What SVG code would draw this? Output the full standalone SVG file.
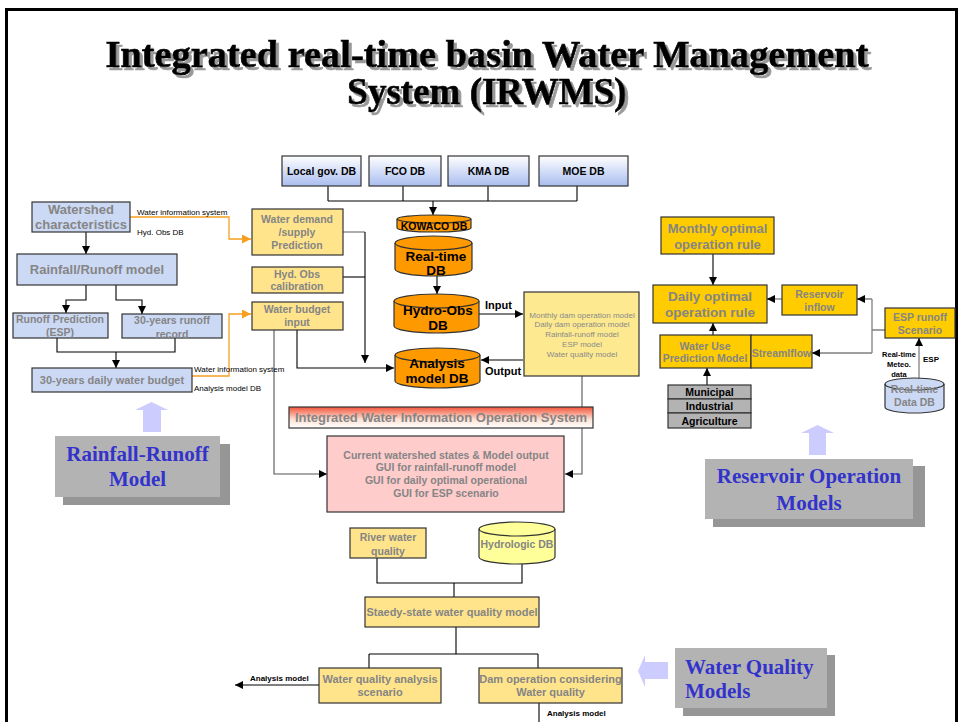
<svg xmlns="http://www.w3.org/2000/svg" width="961" height="722" viewBox="0 0 961 722">
<defs>
  <linearGradient id="dbGrad" x1="0" y1="0" x2="0" y2="1">
    <stop offset="0" stop-color="#ffffff"/>
    <stop offset="1" stop-color="#a9bdf0"/>
  </linearGradient>
  <linearGradient id="bannerGrad" x1="0" y1="0" x2="0" y2="1">
    <stop offset="0" stop-color="#f2553a"/>
    <stop offset="0.6" stop-color="#fde2d6"/>
    <stop offset="1" stop-color="#ffffff"/>
  </linearGradient>
  <filter id="titleShadow" x="-5%" y="-20%" width="110%" height="150%">
    <feDropShadow dx="3" dy="3" stdDeviation="0" flood-color="#9a9a9a" flood-opacity="1"/>
  </filter>
  <marker id="ah" viewBox="0 0 8 8" refX="8" refY="4" markerWidth="8" markerHeight="8" markerUnits="userSpaceOnUse" orient="auto">
    <path d="M0,0 L8,4 L0,8 Z" fill="#000"/>
  </marker>
  <marker id="aho" viewBox="0 0 8 8" refX="8" refY="4" markerWidth="9" markerHeight="9" markerUnits="userSpaceOnUse" orient="auto">
    <path d="M0,0 L8,4 L0,8 Z" fill="#f5a020"/>
  </marker>
</defs>
<style>
  text { font-family: "Liberation Sans", Arial, sans-serif; font-weight: bold; text-anchor: middle; }
  .title { font-family: "Liberation Serif", "Times New Roman", serif; font-size: 37px; fill: #000; stroke: #000; stroke-width: 0.7; filter: url(#titleShadow); }
  .g { fill: #858585; }
  .k { fill: #000; }
  .bx { stroke: #333; stroke-width: 1.2; }
  .lb { fill: #ccd9f5; }
  .ly { fill: #ffe48c; }
  .yo { fill: #ffcc00; }
  .or { fill: #ff9900; }
  .gr { fill: #b3b3b3; }
  .c { fill: none; stroke: #000; stroke-width: 1.1; }
  .cg { fill: none; stroke: #808080; stroke-width: 1.3; }
  .co { fill: none; stroke: #f5a020; stroke-width: 1.3; }
  .sm { font-weight: normal; font-size: 8px; text-anchor: start; fill: #000; }
  .smb { font-size: 8px; text-anchor: start; fill: #000; }
  .mt { font-weight: normal; font-size: 8px; fill: #8a8a8a; }
  .call { font-family: "Liberation Serif", "Times New Roman", serif; font-size: 21px; fill: #3333cc; }
  .big { fill: #ccccff; }
</style>

<!-- page frame -->
<rect x="6.5" y="9.5" width="950" height="800" fill="#fff" stroke="#000" stroke-width="3"/>

<!-- title -->
<g id="title">
  <text class="title" x="487" y="67" textLength="763" lengthAdjust="spacingAndGlyphs">Integrated real-time basin Water Management</text>
  <text class="title" x="487" y="104">System (IRWMS)</text>
</g>

<!-- connectors -->
<g id="connectors">
  <!-- source DBs to KOWACO -->
  <path class="c" d="M328,186 V201 M403,186 V201 M488,186 V201 M577,186 V201 M328,201 H577"/>
  <path class="c" d="M433,201 V215" marker-end="url(#ah)"/>
  <path class="c" d="M437,276 V294" marker-end="url(#ah)"/>
  <path class="c" d="M479,314 H523" marker-end="url(#ah)"/>
  <path class="c" d="M523,360 H481" marker-end="url(#ah)"/>
  <!-- inputs to analysis DB -->
  <path class="cg" d="M343,232 H365"/>
  <path class="c" d="M343,277 H365"/>
  <path class="c" d="M365,232 V363" marker-end="url(#ah)"/>
  <path class="c" d="M297,330 V368 H394" marker-end="url(#ah)"/>
  <!-- to GUI box -->
  <path class="c" style="stroke:#555" d="M274,330 V474 H327" marker-end="url(#ah)"/>
  <path class="c" style="stroke:#555" d="M582,376 V474 H565" marker-end="url(#ah)"/>
  <!-- rainfall-runoff tree -->
  <path class="c" d="M86,232 V254" marker-end="url(#ah)"/>
  <path class="c" d="M86,285 V300 H66 V313" marker-end="url(#ah)"/>
  <path class="c" d="M116,285 V300 H142 V314" marker-end="url(#ah)"/>
  <path class="c" d="M57,338 V352 H175 V338"/>
  <path class="c" d="M116,352 V368" marker-end="url(#ah)"/>
  <!-- water information system links -->
  <path class="co" d="M130,217 H229 V239 H251" marker-end="url(#aho)"/>
  <path class="co" d="M192,376 H229 V314 H251" marker-end="url(#aho)"/>
  <!-- reservoir operation -->
  <path class="c" d="M713,254 V285" marker-end="url(#ah)"/>
  <path class="cg" d="M782,299 H772"/>
  <path class="c" d="M773,299 H767" marker-end="url(#ah)"/>
  <path class="cg" d="M885,330 H872 M872,299 V353 M872,299 H862 M872,353 H817"/>
  <path class="c" d="M863,299 H857" marker-end="url(#ah)"/>
  <path class="c" d="M818,353 H812" marker-end="url(#ah)"/>
  <path class="c" d="M713,335 V323" marker-end="url(#ah)"/>
  <path class="c" d="M707,385 V368" marker-end="url(#ah)"/>
  <path class="cg" d="M919,378 V345"/>
  <path class="c" d="M919,346 V338" marker-end="url(#ah)"/>
  <!-- water quality -->
  <path class="c" d="M377,558 V583 H522 V564 M454,583 V597"/>
  <path class="c" d="M456,627 V654 M369,654 H538 M369,654 V668 M538,654 V668"/>
  <path class="c" d="M319,685 H235" marker-end="url(#ah)"/>
  <path class="c" d="M539,703 V722"/>
</g>

<!-- connector labels -->
<g id="labels">
  <text class="sm" x="137" y="215">Water information system</text>
  <text class="sm" x="137" y="235">Hyd. Obs DB</text>
  <text class="sm" x="194" y="372">Water information system</text>
  <text class="sm" x="194" y="391">Analysis model DB</text>
  <text class="k" x="485" y="309" style="font-size:11px;text-anchor:start">Input</text>
  <text class="k" x="485" y="375" style="font-size:11px;text-anchor:start">Output</text>
  <text class="smb" x="923" y="362">ESP</text>
  <text class="k" x="899" y="357" style="font-size:7.5px">Real-time</text>
  <text class="k" x="899" y="367" style="font-size:7.5px">Meteo.</text>
  <text class="k" x="899" y="377" style="font-size:7.5px">data</text>
  <text class="smb" x="250" y="681">Analysis model</text>
  <text class="smb" x="547" y="716">Analysis model</text>
</g>

<!-- source databases -->
<g id="localgov"><rect class="bx" x="282" y="156" width="79" height="30" fill="url(#dbGrad)"/><text class="k" x="321.5" y="175" font-size="10.5">Local gov. DB</text></g>
<g id="fco"><rect class="bx" x="369" y="156" width="72" height="30" fill="url(#dbGrad)"/><text class="k" x="405" y="175" font-size="10.5">FCO DB</text></g>
<g id="kma"><rect class="bx" x="448" y="156" width="81" height="30" fill="url(#dbGrad)"/><text class="k" x="488.5" y="175" font-size="10.5">KMA DB</text></g>
<g id="moe"><rect class="bx" x="539" y="156" width="89" height="30" fill="url(#dbGrad)"/><text class="k" x="583.5" y="175" font-size="10.5">MOE DB</text></g>

<!-- central databases -->
<g id="kowaco">
  <path class="bx or" d="M397,219 A37,4 0 0 1 471,219 V228 A37,4 0 0 1 397,228 Z"/>
  <path class="bx" fill="none" d="M397,219 A37,4 0 0 0 471,219"/>
  <text class="k" x="434" y="230" font-size="10.5">KOWACO DB</text>
</g>
<g id="realtime">
  <path class="bx or" d="M395,243 A38.5,7 0 0 1 472,243 V269 A38.5,7 0 0 1 395,269 Z"/>
  <path class="bx" fill="none" d="M395,243 A38.5,7 0 0 0 472,243"/>
  <text class="k" x="436" y="261" font-size="13.5">Real-time</text>
  <text class="k" x="436" y="275" font-size="13.5">DB</text>
</g>
<g id="hydroobs">
  <path class="bx or" d="M394,301 A42.5,7 0 0 1 479,301 V326 A42.5,7 0 0 1 394,326 Z"/>
  <path class="bx" fill="none" d="M394,301 A42.5,7 0 0 0 479,301"/>
  <text class="k" x="438" y="315" font-size="13.5">Hydro-Obs</text>
  <text class="k" x="438" y="330" font-size="13.5">DB</text>
</g>
<g id="analysisdb">
  <path class="bx or" d="M395,355 A42.5,7 0 0 1 480,355 V381 A42.5,7 0 0 1 395,381 Z"/>
  <path class="bx" fill="none" d="M395,355 A42.5,7 0 0 0 480,355"/>
  <text class="k" x="437" y="368" font-size="13.5">Analysis</text>
  <text class="k" x="437" y="383" font-size="13.5">model DB</text>
</g>

<!-- models list -->
<g id="models">
  <rect class="bx" x="524" y="292" width="115" height="84" fill="#fde990"/>
  <text class="mt" x="582" y="318">Monthly dam operation model</text>
  <text class="mt" x="582" y="327">Daily dam operation model</text>
  <text class="mt" x="582" y="337">Rainfall-runoff model</text>
  <text class="mt" x="582" y="347">ESP model</text>
  <text class="mt" x="582" y="357">Water quality model</text>
</g>

<!-- left input boxes -->
<g id="demand"><rect class="bx ly" x="252" y="209" width="91" height="46"/><text class="g" x="297" y="223" font-size="10.5">Water demand</text><text class="g" x="297" y="236" font-size="10.5">/supply</text><text class="g" x="297" y="249" font-size="10.5">Prediction</text></g>
<g id="hydcal"><rect class="bx ly" x="252" y="267" width="91" height="26"/><text class="g" x="297" y="278" font-size="10.5">Hyd. Obs</text><text class="g" x="297" y="290" font-size="10.5">calibration</text></g>
<g id="budgetinput"><rect class="bx ly" x="252" y="302" width="91" height="28"/><text class="g" x="297" y="313" font-size="10.5">Water budget</text><text class="g" x="297" y="326" font-size="10.5">input</text></g>

<!-- rainfall-runoff model chain -->
<g id="watershed"><rect class="bx lb" x="32" y="202" width="98" height="30"/><text class="g" x="81" y="214" font-size="13">Watershed</text><text class="g" x="81" y="229" font-size="13">characteristics</text></g>
<g id="rrmodel"><rect class="bx lb" x="17" y="254" width="160" height="31"/><text class="g" x="97" y="274" font-size="13">Rainfall/Runoff model</text></g>
<g id="runoffpred"><rect class="bx lb" x="13" y="313" width="95" height="25"/><text class="g" x="60" y="323" font-size="10.5">Runoff Prediction</text><text class="g" x="60" y="336" font-size="10.5">(ESP)</text></g>
<g id="runoffrecord"><rect class="bx lb" x="122" y="314" width="100" height="24"/><text class="g" x="172" y="324" font-size="10.5">30-years runoff</text><text class="g" x="172" y="338" font-size="10.5">record</text></g>
<g id="dailybudget"><rect class="bx lb" x="32" y="368" width="160" height="24"/><text class="g" x="112" y="384" font-size="11">30-years daily water budget</text></g>

<!-- rainfall-runoff callout -->
<g id="rrcallout">
  <polygon class="big" points="151.5,402 168,410 161,410 161,432 143,432 143,410 135,410"/>
  <rect x="63" y="444" width="167" height="61" fill="#969696"/>
  <rect x="55" y="436" width="165" height="61" fill="#b3b3b3"/>
  <text class="call" x="137.5" y="461">Rainfall-Runoff</text>
  <text class="call" x="137.5" y="486">Model</text>
</g>

<!-- operation system -->
<g id="banner">
  <rect class="bx" x="289" y="407" width="304" height="21" fill="url(#bannerGrad)"/>
  <text class="g" x="441" y="422" font-size="13">Integrated Water Information Operation System</text>
</g>
<g id="gui">
  <rect class="bx" x="327" y="436" width="237" height="76" fill="#ffcccc"/>
  <text class="g" x="446" y="459" font-size="10.5">Current watershed states &amp; Model output</text>
  <text class="g" x="446" y="471" font-size="10.5">GUI for rainfall-runoff model</text>
  <text class="g" x="446" y="484" font-size="10.5">GUI for daily optimal operational</text>
  <text class="g" x="446" y="497" font-size="10.5">GUI for ESP scenario</text>
</g>

<!-- reservoir operation -->
<g id="monthly"><rect class="bx yo" x="661" y="217" width="113" height="37"/><text class="g" x="717.5" y="233" font-size="13">Monthly optimal</text><text class="g" x="717.5" y="249" font-size="13">operation rule</text></g>
<g id="daily"><rect class="bx yo" x="653" y="285" width="114" height="38"/><text class="g" x="710" y="301" font-size="13.5">Daily optimal</text><text class="g" x="710" y="317" font-size="13.5">operation rule</text></g>
<g id="inflow"><rect class="bx yo" x="782" y="285" width="75" height="30"/><text class="g" x="819.5" y="298" font-size="10.5">Reservoir</text><text class="g" x="819.5" y="311" font-size="10.5">inflow</text></g>
<g id="espscenario"><rect class="bx yo" x="885" y="308" width="70" height="30"/><text class="g" x="920" y="321" font-size="10.5">ESP runoff</text><text class="g" x="920" y="334" font-size="10.5">Scenario</text></g>
<g id="wateruse"><rect class="bx yo" x="660" y="335" width="91" height="33"/><text class="g" x="705" y="350" font-size="10.5">Water Use</text><text class="g" x="705" y="362" font-size="10.5">Prediction Model</text></g>
<g id="streamflow"><rect class="bx yo" x="751" y="335" width="61" height="33"/><text class="g" x="781.5" y="357" font-size="10.5">Streamlflow</text></g>
<g id="uses">
  <rect class="bx gr" x="668" y="385" width="83" height="14"/>
  <rect class="bx gr" x="668" y="399" width="83" height="14"/>
  <rect class="bx gr" x="668" y="413" width="83" height="15"/>
  <text class="k" x="709.5" y="396" font-size="10.5">Municipal</text>
  <text class="k" x="709.5" y="410" font-size="10.5">Industrial</text>
  <text class="k" x="709.5" y="425" font-size="10.5">Agriculture</text>
</g>
<g id="rtdatadb">
  <path class="bx lb" d="M885,384 A29.5,6 0 0 1 944,384 V407 A29.5,6 0 0 1 885,407 Z"/>
  <path class="bx" fill="none" d="M885,384 A29.5,6 0 0 0 944,384"/>
  <text class="g" x="914.5" y="393" font-size="10.5">Real-time</text>
  <text class="g" x="914.5" y="406" font-size="10.5">Data DB</text>
</g>

<!-- reservoir callout -->
<g id="rescallout">
  <polygon class="big" points="817.5,425 834,433 826,433 826,455 809,455 809,433 801,433"/>
  <rect x="713" y="466" width="212" height="61" fill="#969696"/>
  <rect x="705" y="459" width="208" height="60" fill="#b3b3b3"/>
  <text class="call" x="809" y="483">Reservoir Operation</text>
  <text class="call" x="809" y="510">Models</text>
</g>

<!-- water quality -->
<g id="riverwq"><rect class="bx ly" x="350" y="528" width="76" height="30"/><text class="g" x="388" y="541" font-size="10.5">River water</text><text class="g" x="388" y="555" font-size="10.5">quality</text></g>
<g id="hydrologicdb">
  <path class="bx" fill="#ffff99" d="M479,529 A38,7 0 0 1 555,529 V557 A38,7 0 0 1 479,557 Z"/>
  <path class="bx" fill="none" d="M479,529 A38,7 0 0 0 555,529"/>
  <text class="g" x="517" y="548" font-size="10.5">Hydrologic DB</text>
</g>
<g id="steady"><rect class="bx ly" x="365" y="597" width="174" height="30"/><text class="g" x="452" y="616" font-size="11">Staedy-state water quality model</text></g>
<g id="wqscenario"><rect class="bx ly" x="319" y="668" width="122" height="35"/><text class="g" x="380" y="683" font-size="11">Water quality analysis</text><text class="g" x="380" y="696" font-size="11">scenario</text></g>
<g id="damwq"><rect class="bx ly" x="479" y="668" width="143" height="35"/><text class="g" x="550.5" y="683" font-size="11">Dam operation considering</text><text class="g" x="550.5" y="696" font-size="11">Water quality</text></g>

<!-- water quality callout -->
<g id="wqcallout">
  <polygon class="big" points="638,671 645,655 645,662 668,662 668,679 645,679 645,687"/>
  <rect x="683" y="655" width="152" height="61" fill="#969696"/>
  <rect x="675" y="648" width="152" height="60" fill="#b3b3b3"/>
  <text class="call" x="685" y="674" style="text-anchor:start">Water Quality</text>
  <text class="call" x="685" y="698" style="text-anchor:start">Models</text>
</g>
</svg>
